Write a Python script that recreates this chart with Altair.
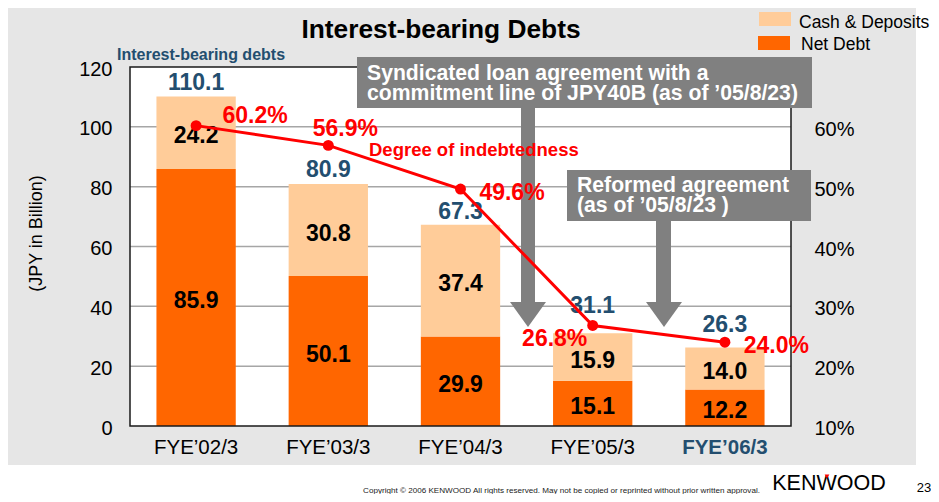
import altair as alt
import pandas as pd

# ---------------- data ----------------
years = ["FYE’02/3", "FYE’03/3", "FYE’04/3", "FYE’05/3", "FYE’06/3"]
net_debt = [85.9, 50.1, 29.9, 15.1, 12.2]
cash_deposits = [24.2, 30.8, 37.4, 15.9, 14.0]
total_debt = [110.1, 80.9, 67.3, 31.1, 26.3]
indebtedness = [60.2, 56.9, 49.6, 26.8, 24.0]
left_ticks = [0, 20, 40, 60, 80, 100, 120]
right_ticks = [10, 20, 30, 40, 50, 60]
series_names = ["Cash & Deposits", "Net Debt"]

# ---------------- style / layout ----------------
W, H = 661, 359
FONT = "Liberation Sans"
ORANGE = "#FF6600"
PEACH = "#FFCC99"
NAVY = "#234E6F"
RED = "#FF0000"
GRAY = "#808080"
PANEL = "#E6E6E6"

df = pd.DataFrame({"year": years, "net": net_debt, "cash": cash_deposits,
                   "total": total_debt, "ratio": indebtedness})
df["top"] = df["net"] + df["cash"]
df["zero"] = 0.0
df["mid_net"] = df["net"] / 2
df["mid_cash"] = df["net"] + df["cash"] / 2
grid_df = pd.DataFrame({"v": left_ticks[1:-1]})
one = pd.DataFrame({"k": [0]})

last = years[-1]
xenc = alt.X("year:N", sort=years,
             scale=alt.Scale(type="band", paddingInner=0.4, paddingOuter=0.2),
             axis=alt.Axis(title=None, domain=False, ticks=False, labelAngle=0,
                           labelFont=FONT, labelFontSize=20.5, labelPadding=11,
                           labelColor={"expr": f"datum.value === '{last}' ? '{NAVY}' : 'black'"},
                           labelFontWeight={"expr": f"datum.value === '{last}' ? 'bold' : 'normal'"},
                           zindex=1))

yscale_l = alt.Scale(domain=[0, 120], nice=False, zero=True)
yaxis_l = alt.Axis(values=left_ticks, title=None, domain=False, ticks=False, grid=False,
                   labelFont=FONT, labelFontSize=20, labelPadding=18, labelOffset=2,
                   labelColor="black", zindex=1)


def yl(field):
    return alt.Y(field, scale=yscale_l, axis=yaxis_l)


yscale_r = alt.Scale(domain=[10, 70], nice=False, zero=False)
yaxis_r = alt.Axis(orient="right", values=right_ticks, labelExpr="datum.value + '%'",
                   title=None, domain=False, ticks=False, grid=False,
                   labelFont=FONT, labelFontSize=20, labelPadding=23, labelOffset=2.5,
                   labelColor="black", zindex=1)


def yr(field):
    return alt.Y(field, scale=yscale_r, axis=yaxis_r)


def px_rect(x1, x2, y1, y2, **kw):
    return alt.Chart(one).mark_rect(**kw).encode(
        x=alt.value(x1), x2=alt.value(x2), y=alt.value(y1), y2=alt.value(y2))


def px_text(txt, x, y, **kw):
    kw.setdefault("font", FONT)
    return alt.Chart(one).mark_text(text=txt, **kw).encode(x=alt.value(x), y=alt.value(y))


def arrow_head(cx, cy):
    return alt.Chart(one).mark_point(
        shape="M-1,-0.69L1,-0.69L0,0.69Z", size=1296, filled=True, fill=GRAY,
        color=GRAY, opacity=1, strokeWidth=0).encode(x=alt.value(cx), y=alt.value(cy))


# ---------------- left (amount) group ----------------
layers_left = []
layers_left.append(px_rect(-123, 786, -61, 398, fill=PANEL))
layers_left.append(px_rect(0, W, 0, H, fill="white"))
layers_left.append(alt.Chart(grid_df).mark_rule(color="#A6A6A6", strokeWidth=1.5).encode(
    y=yl("v:Q"), x=alt.value(0), x2=alt.value(W)))

layers_left.append(alt.Chart(df).mark_bar(color=ORANGE).encode(
    x=xenc, y=yl("net:Q"), y2=alt.Y2("zero:Q")))
layers_left.append(alt.Chart(df).mark_bar(color=PEACH).encode(
    x=xenc, y=yl("top:Q"), y2=alt.Y2("net:Q")))

layers_left.append(px_rect(0, W, 0, H, fill="white", fillOpacity=0, stroke="#1A1A1A", strokeWidth=1.5))

layers_left.append(alt.Chart(df).mark_text(font=FONT, fontSize=23, fontWeight="bold", color="black",
                                            baseline="alphabetic", dy=10.5).encode(
    x=xenc, y=yl("mid_net:Q"), text=alt.Text("net:Q", format=".1f")))
layers_left.append(alt.Chart(df).mark_text(font=FONT, fontSize=23, fontWeight="bold", color="black",
                                            baseline="alphabetic", dy=10.5).encode(
    x=xenc, y=yl("mid_cash:Q"), text=alt.Text("cash:Q", format=".1f")))

total_dy = [-7, -6.5, -5.5, -20, -16]
for yr_name, d in zip(years, total_dy):
    layers_left.append(alt.Chart(df).transform_filter(alt.datum.year == yr_name).mark_text(
        font=FONT, fontSize=23, fontWeight="bold", color=NAVY, baseline="alphabetic", dy=d).encode(
        x=xenc, y=yl("top:Q"), text=alt.Text("total:Q", format=".1f")))

# arrows
layers_left.append(px_rect(391, 405, 41, 237, fill=GRAY))
layers_left.append(arrow_head(398, 247.5))
layers_left.append(px_rect(526, 541, 154, 237, fill=GRAY))
layers_left.append(arrow_head(534, 247.5))

# annotation boxes
layers_left.append(px_rect(227, 682, -10, 41, fill=GRAY))
layers_left.append(px_text("Syndicated loan agreement with a", 237, 12.5, fontSize=21.2,
                           fontWeight="bold", color="white", align="left", baseline="alphabetic"))
layers_left.append(px_text("commitment line of JPY40B (as of ’05/8/23)", 237, 33, fontSize=21.2,
                           fontWeight="bold", color="white", align="left", baseline="alphabetic"))
layers_left.append(px_rect(437, 681, 103, 154, fill=GRAY))
layers_left.append(px_text("Reformed agreement", 447, 124.7, fontSize=21.2,
                           fontWeight="bold", color="white", align="left", baseline="alphabetic"))
layers_left.append(px_text("(as of ’05/8/23 )", 447, 144.7, fontSize=21.2,
                           fontWeight="bold", color="white", align="left", baseline="alphabetic"))

# legend
layers_left.append(px_rect(629, 661, -55, -41, fill=PEACH))
layers_left.append(px_rect(628, 660, -31, -17, fill=ORANGE))
layers_left.append(px_text(series_names[0], 669, -39.3, fontSize=17.5, color="black",
                           align="left", baseline="alphabetic"))
layers_left.append(px_text(series_names[1], 671, -17, fontSize=17.5, color="black",
                           align="left", baseline="alphabetic"))

# titles
layers_left.append(px_text("Interest-bearing Debts", 311, -29.5, fontSize=26.3, fontWeight="bold",
                           color="black", align="center", baseline="alphabetic"))
layers_left.append(px_text("Interest-bearing debts", -13, -7, fontSize=16, fontWeight="bold",
                           color=NAVY, align="left", baseline="alphabetic"))
layers_left.append(px_text("(JPY in Billion)", -93, 166.5, fontSize=18, angle=270,
                           color="black", align="center", baseline="middle"))

# footer
layers_left.append(px_text("Copyright © 2006 KENWOOD   All rights reserved. May not be copied or reprinted without prior written approval.",
                           431.5, 425.5, fontSize=8.1, color="#222222", align="center", baseline="alphabetic"))
layers_left.append(px_text("KENWOOD", 699, 423, fontSize=21.5, color="black", align="center",
                           baseline="alphabetic"))
layers_left.append(alt.Chart(one).mark_point(shape="triangle-down", size=22, filled=True, fill=RED,
                                             opacity=1, strokeWidth=0).encode(
    x=alt.value(697), y=alt.value(409.5)))
layers_left.append(px_text("23", 794, 425, fontSize=13, color="black", align="center",
                           baseline="alphabetic"))

left = alt.layer(*layers_left)

# ---------------- right (ratio) group ----------------
layers_right = []
layers_right.append(alt.Chart(df).mark_line(color=RED, strokeWidth=3).encode(x=xenc, y=yr("ratio:Q")))
layers_right.append(alt.Chart(df).mark_circle(color=RED, size=120, opacity=1).encode(x=xenc, y=yr("ratio:Q")))
pct_off = [(59, -2.3), (17, -9.3), (51.5, 11), (-38, 20.7), (51.5, 11)]
for yr_name, (ddx, ddy) in zip(years, pct_off):
    layers_right.append(alt.Chart(df).transform_filter(alt.datum.year == yr_name).transform_calculate(
        lab="format(datum.ratio, '.1f') + '%'").mark_text(
        font=FONT, fontSize=23, fontWeight="bold", color=RED, baseline="alphabetic",
        dx=ddx, dy=ddy).encode(x=xenc, y=yr("ratio:Q"), text="lab:N"))
layers_right.append(px_text("Degree of indebtedness", 239, 89, fontSize=18.5, fontWeight="bold",
                            color=RED, align="left", baseline="alphabetic"))
right = alt.layer(*layers_right)

chart = alt.layer(left, right).resolve_scale(y="independent").properties(
    width=W, height=H,
    autosize=alt.AutoSizeParams(type="none"),
    padding={"left": 122, "top": 59, "right": 140, "bottom": 68},
    background="white",
).configure_view(stroke=None)

chart.save("out.html", embed_options={"renderer": "svg", "actions": False})
